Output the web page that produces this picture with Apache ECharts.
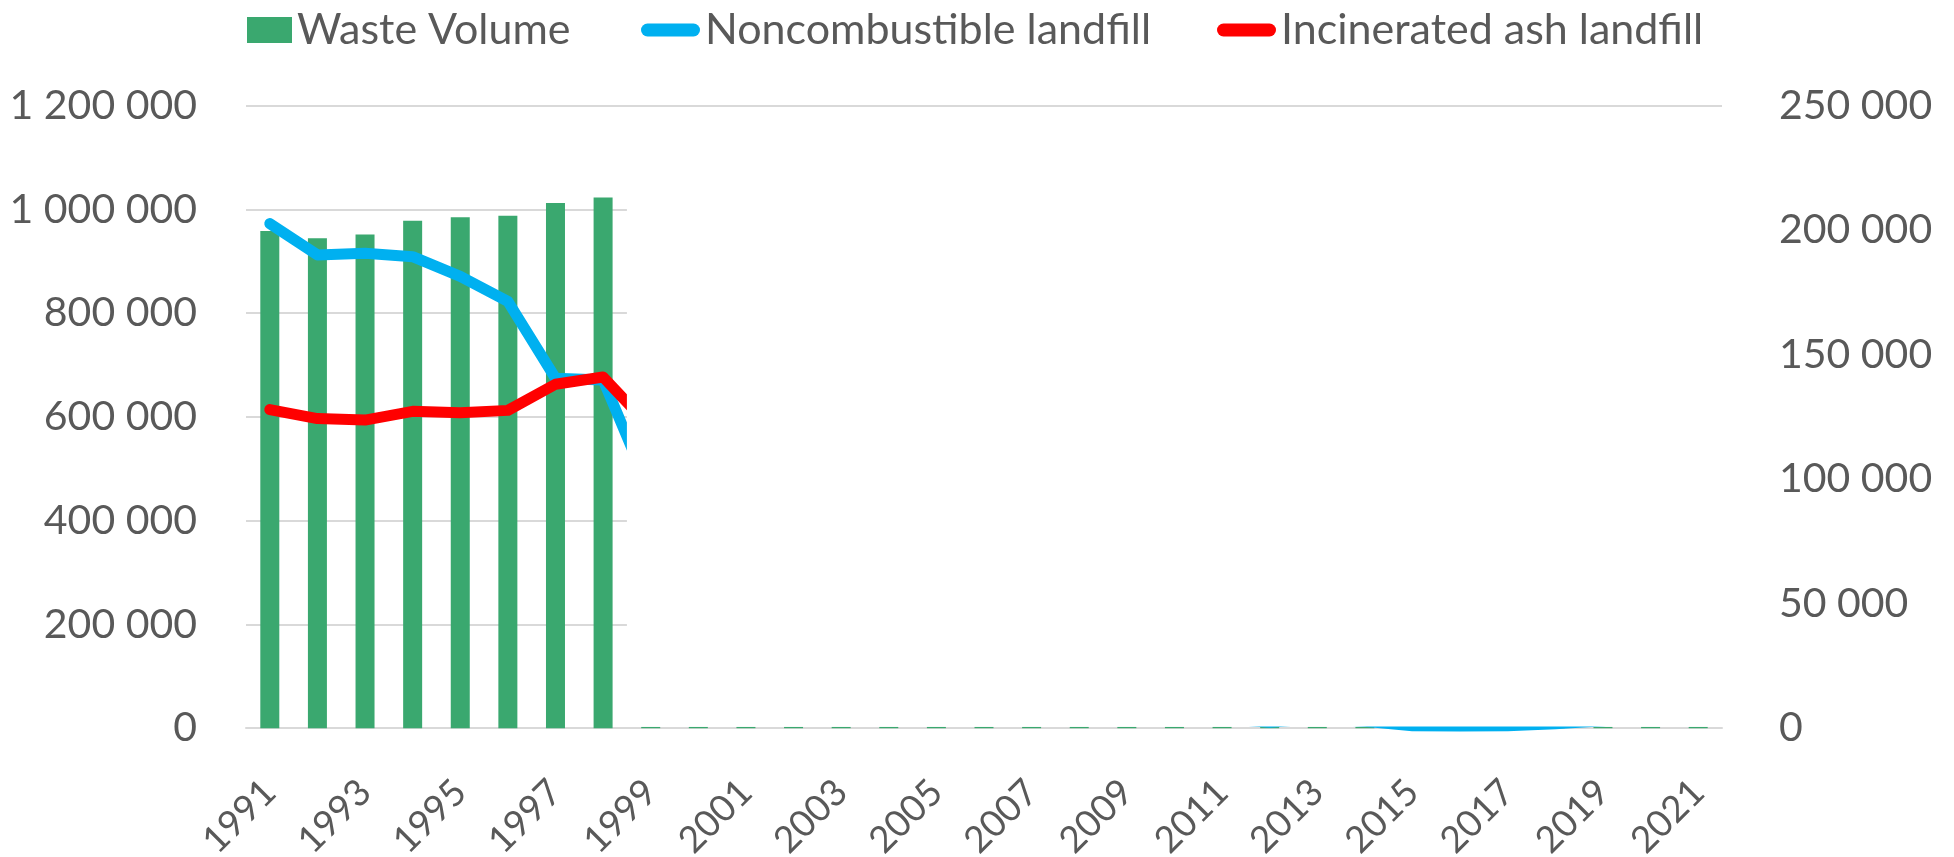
<!DOCTYPE html>
<html>
<head>
<meta charset="utf-8">
<script src="https://cdn.jsdelivr.net/npm/echarts@6/dist/echarts.min.js"></script>
<style>
html,body{margin:0;padding:0;background:#ffffff;}
#chart{width:1954px;height:857px;}
</style>
</head>
<body>
<div id="chart"></div>
<script>
// ---- data ----
const categories = ['1991','1992','1993','1994','1995','1996','1997','1998','1999','2000',
  '2001','2002','2003','2004','2005','2006','2007','2008','2009','2010',
  '2011','2012','2013','2014','2015','2016','2017','2018','2019','2020','2021'];

const wasteVolume = [958000, 944000, 951600, 977900, 984700, 987500, 1012200, 1022600,
  2500, 2500, 2500, 2500, 2500, 2500, 2500, 2500, 2500, 2500, 2500, 2500,
  2500, 2500, 2500, 2500, 2500, 2500, 2500, 2500, 2500, 2500, 2500];

const noncombustible = [202600, 190000, 190700, 189300, 181400, 171400, 140500, 139800, 94500,
  null, null, null, null, null, null, null, null, null, null, null,
  4000, 2400, 4000, 2800, 1000, 900, 1000, 1800, 3000, 5000, 5000];

const incineratedAsh = [127900, 124300, 123700, 127200, 126600, 127600, 138100, 141000, 120700,
  null, null, null, null, null, null, null, null, null, null, null,
  null, null, null, null, null, null, null, null, null, null, null];

const leftTicks = [0, 200000, 400000, 600000, 800000, 1000000, 1200000];
const rightTicks = [0, 50000, 100000, 150000, 200000, 250000];

const seriesNames = ['Waste Volume', 'Noncombustible landfill', 'Incinerated ash landfill'];

// white panel of the reference that hides the plot from 1999 on
const hiddenFrom = categories[8];
const hiddenTo = categories[categories.length - 1];
const hiddenLow = 3500;
const hiddenHigh = 1100000;

// ---- chart ----
const FONT = 'Lato';
const TXT = '#595959';
const fmt = v => String(v).replace(/\B(?=(\d{3})+(?!\d))/g, ' ');

const chart = echarts.init(document.getElementById('chart'), null, {renderer: 'canvas'});

const lineIcon = 'path://M6.5,0H52.5A6.5,6.5,0,0,1,52.5,13H6.5A6.5,6.5,0,0,1,6.5,0Z';

function legendBox(name, left, icon, w, h) {
  return {
    data: [{name: name, icon: icon}],
    left: left,
    top: 8,
    padding: 0,
    itemWidth: w,
    itemHeight: h,
    selectedMode: false,
    symbolKeepAspect: true,
    textStyle: {fontFamily: FONT, fontSize: 43, color: TXT, lineHeight: 44}
  };
}

const option = {
  backgroundColor: '#ffffff',
  animation: false,
  textStyle: {fontFamily: FONT},
  legend: [
    legendBox(seriesNames[0], 247, 'rect', 45, 26),
    legendBox(seriesNames[1], 641, lineIcon, 59, 13),
    legendBox(seriesNames[2], 1217, lineIcon, 59, 13)
  ],
  grid: {
    left: 246, right: 232, top: 105.5, bottom: 128.8,
    containLabel: false,
    outerBoundsMode: 'none'
  },
  xAxis: {
    type: 'category',
    data: categories,
    boundaryGap: true,
    axisLine: {show: true, lineStyle: {color: '#d9d9d9', width: 2}},
    axisTick: {show: false, interval: 0},
    splitLine: {show: false},
    axisLabel: {
      interval: 1,
      rotate: 45,
      margin: 58,
      fontFamily: FONT,
      fontSize: 37,
      color: TXT
    }
  },
  yAxis: [
    {
      type: 'value',
      min: leftTicks[0],
      max: leftTicks[leftTicks.length - 1],
      interval: leftTicks[1] - leftTicks[0],
      axisLine: {show: false},
      axisTick: {show: false},
      splitLine: {show: true, lineStyle: {color: '#d9d9d9', width: 2}},
      axisLabel: {
        margin: 49,
        fontFamily: FONT,
        fontSize: 41,
        color: TXT,
        formatter: fmt
      }
    },
    {
      type: 'value',
      position: 'right',
      min: rightTicks[0],
      max: rightTicks[rightTicks.length - 1],
      interval: rightTicks[1] - rightTicks[0],
      axisLine: {show: false},
      axisTick: {show: false},
      splitLine: {show: false},
      axisLabel: {
        margin: 57,
        align: 'left',
        fontFamily: FONT,
        fontSize: 41,
        color: TXT,
        formatter: fmt
      }
    }
  ],
  series: [
    {
      name: seriesNames[0],
      type: 'bar',
      yAxisIndex: 0,
      data: wasteVolume,
      barWidth: 19,
      itemStyle: {color: '#3aa86f'},
      z: 2,
      markArea: {
        silent: true,
        z: 10,
        itemStyle: {color: '#ffffff', opacity: 1, borderWidth: 0},
        label: {show: false},
        emphasis: {disabled: true, itemStyle: {color: '#ffffff'}, label: {show: false}},
        data: [[{xAxis: hiddenFrom, yAxis: hiddenLow}, {xAxis: hiddenTo, yAxis: hiddenHigh}]]
      }
    },
    {
      name: seriesNames[1],
      type: 'line',
      yAxisIndex: 1,
      data: noncombustible,
      symbol: 'none',
      connectNulls: false,
      itemStyle: {color: '#00b0f0'},
      lineStyle: {color: '#00b0f0', width: 11, cap: 'round', join: 'round'},
      z: 3
    },
    {
      name: seriesNames[2],
      type: 'line',
      yAxisIndex: 1,
      data: incineratedAsh,
      symbol: 'none',
      connectNulls: false,
      itemStyle: {color: '#ff0000'},
      lineStyle: {color: '#ff0000', width: 11, cap: 'round', join: 'round'},
      z: 4
    }
  ]
};

chart.setOption(option);
</script>
</body>
</html>
